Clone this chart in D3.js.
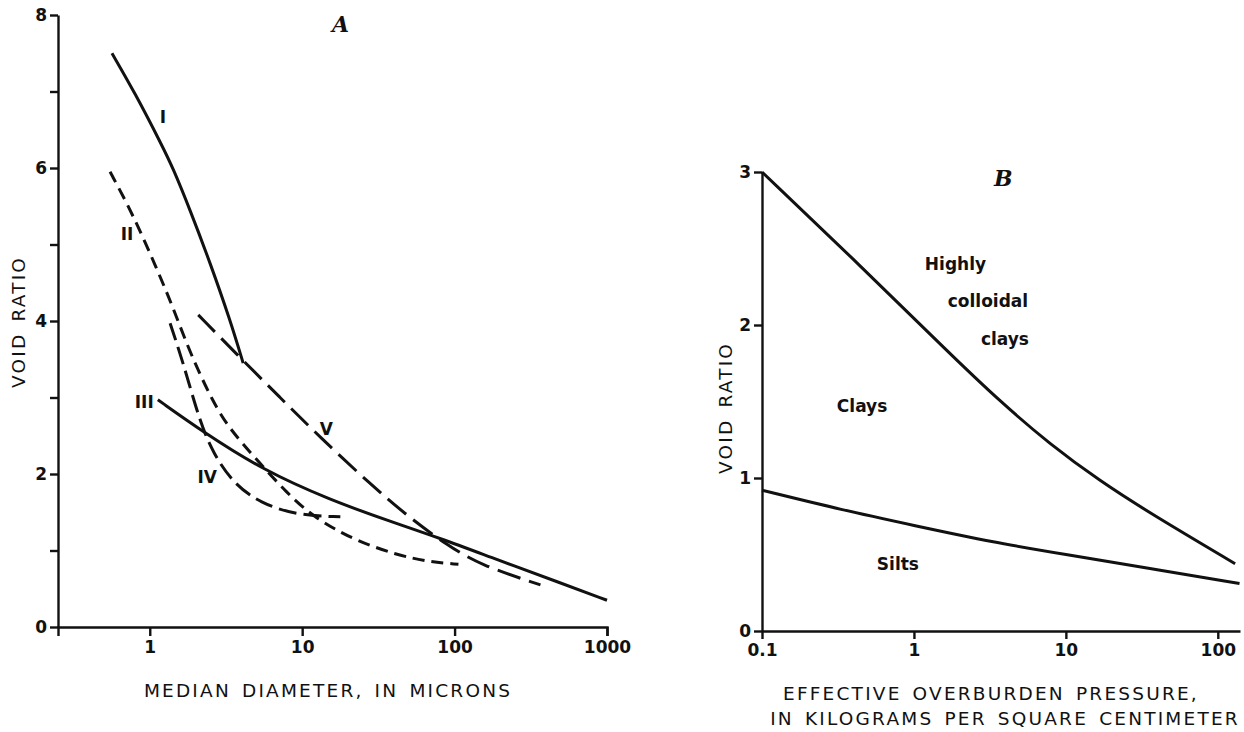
<!DOCTYPE html>
<html>
<head>
<meta charset="utf-8">
<script src="https://cdn.jsdelivr.net/npm/d3@7"></script>
<style>
  body { margin: 0; background: #fff; }
  svg { display: block; }
  .tick text { font-family: "DejaVu Sans", sans-serif; font-size: 17px; font-weight: bold; fill: #111; }
  .title { font-family: "DejaVu Sans", sans-serif; font-size: 18.5px; fill: #111; letter-spacing: 2.2px; word-spacing: 3px; }
  .lab { font-family: "DejaVu Sans", sans-serif; font-size: 17px; font-weight: bold; fill: #111; }
  .panel { font-family: "DejaVu Serif", "Liberation Serif", serif; font-style: italic; font-weight: bold; font-size: 22px; fill: #111; }
</style>
</head>
<body>
<svg width="1244" height="732"></svg>
<script>
// Panel A: void ratio vs median diameter (microns)
var curveI   = [[0.565,7.5],[0.8,6.98],[1.2,6.3],[1.42,6.0],[1.84,5.45],[2.49,4.76],[3.37,4.01],[4.1,3.45]];
var curveII  = [[0.549,5.95],[0.777,5.39],[1.12,4.67],[1.42,4.18],[1.84,3.58],[2.61,2.93],[3.37,2.58],[5.06,2.18],[7.96,1.75],[11.8,1.44],[21.6,1.14],[42,0.94],[69,0.85],[106,0.82]];
var curveIII = [[1.13,2.97],[2.24,2.55],[5.55,2.05],[15.3,1.66],[37.8,1.38],[80.5,1.16],[190,0.88],[490,0.58],[1000,0.35]];
var curveIV  = [[1.36,3.97],[1.66,3.45],[2.14,2.67],[2.61,2.27],[3.52,1.88],[5.3,1.62],[9.27,1.46],[17.8,1.44]];
var curveV   = [[2.08,4.08],[3.92,3.52],[7.16,3.0],[13.1,2.48],[27.9,1.87],[51.2,1.42],[89.5,1.07],[147.5,0.81],[366,0.55]];
var ticksAx = [1, 10, 100, 1000];
var ticksAy = [0, 1, 2, 3, 4, 5, 6, 7, 8];

// Panel B: void ratio vs effective overburden pressure
var upperB = [[0.1,3.0],[0.442,2.39],[1.73,1.81],[3.69,1.5],[7.87,1.22],[16.8,0.98],[35.8,0.77],[130,0.44]];
var lowerB = [[0.1,0.92],[0.34,0.79],[1.0,0.69],[3.3,0.58],[10,0.5],[35,0.41],[139,0.31]];
var ticksBx = [0.1, 1, 10, 100];
var ticksBy = [0, 1, 2, 3];

var svg = d3.select("svg");

function inkAxis(g) {
  g.selectAll("line,path").attr("stroke", "#111").attr("stroke-width", 2.4);
}

// ---------- panel A ----------
var xA = d3.scaleLog().domain([0.25, 1000]).range([58, 607]);
var yA = d3.scaleLinear().domain([0, 8]).range([627, 15]);

var gA = svg.append("g");

gA.append("g")
  .attr("transform", "translate(0,627)")
  .call(d3.axisBottom(xA).tickValues(ticksAx).tickFormat(d3.format("d")).tickSize(9).tickPadding(5))
  .call(inkAxis);

gA.append("g")
  .attr("transform", "translate(58,0)")
  .call(d3.axisLeft(yA).tickValues(ticksAy).tickFormat(function(d) { return d % 2 === 0 ? d : ""; }).tickSize(8).tickPadding(3).tickSizeOuter(0))
  .call(inkAxis);

var lineA = d3.line()
  .x(function(d) { return xA(d[0]); })
  .y(function(d) { return yA(d[1]); })
  .curve(d3.curveBasis);

var seriesA = [
  { data: curveI,   dash: null },
  { data: curveII,  dash: "12,7" },
  { data: curveIII, dash: null },
  { data: curveIV,  dash: "18,7" },
  { data: curveV,   dash: "24,9" }
];

gA.selectAll("path.curve")
  .data(seriesA)
  .enter()
  .append("path")
  .attr("class", "curve")
  .attr("fill", "none")
  .attr("stroke", "#111")
  .attr("stroke-width", 3)
  .attr("stroke-dasharray", function(d) { return d.dash; })
  .attr("d", function(d) { return lineA(d.data); });

var labelsA = [["I", 1.22, 6.59], ["II", 0.71, 5.06], ["III", 0.92, 2.86], ["IV", 2.38, 1.88], ["V", 14.4, 2.51]];
gA.selectAll("text.lab")
  .data(labelsA)
  .enter()
  .append("text")
  .attr("class", "lab")
  .attr("x", function(d) { return xA(d[1]); })
  .attr("y", function(d) { return yA(d[2]); })
  .attr("text-anchor", "middle")
  .text(function(d) { return d[0]; });

gA.append("text").attr("class", "panel").attr("x", 332).attr("y", 32).text("A");

gA.append("text").attr("class", "title")
  .attr("x", 328).attr("y", 697).attr("text-anchor", "middle")
  .text("MEDIAN DIAMETER, IN MICRONS");

gA.append("text").attr("class", "title")
  .attr("transform", "translate(25,322) rotate(-90)")
  .attr("text-anchor", "middle")
  .text("VOID RATIO");

// ---------- panel B ----------
var xB = d3.scaleLog().domain([0.1, 140]).range([762, 1240]);
var yB = d3.scaleLinear().domain([0, 3]).range([631, 172]);

var gB = svg.append("g");

gB.append("g")
  .attr("transform", "translate(0,631)")
  .call(d3.axisBottom(xB).tickValues(ticksBx).tickFormat(function(d) { return d; }).tickSize(8).tickPadding(5).tickSizeOuter(0))
  .call(inkAxis);

gB.append("g")
  .attr("transform", "translate(762,0)")
  .call(d3.axisLeft(yB).tickValues(ticksBy).tickFormat(d3.format("d")).tickSize(8).tickPadding(3).tickSizeOuter(0))
  .call(inkAxis);

var lineB = d3.line()
  .x(function(d) { return xB(d[0]); })
  .y(function(d) { return yB(d[1]); })
  .curve(d3.curveBasis);

gB.selectAll("path.curve")
  .data([upperB, lowerB])
  .enter()
  .append("path")
  .attr("class", "curve")
  .attr("fill", "none")
  .attr("stroke", "#111")
  .attr("stroke-width", 3)
  .attr("d", lineB);

var labelsB = [["Highly", 1.18, 2.36], ["colloidal", 1.67, 2.12], ["clays", 2.76, 1.87], ["Clays", 0.311, 1.43], ["Silts", 0.57, 0.40]];
gB.selectAll("text.lab")
  .data(labelsB)
  .enter()
  .append("text")
  .attr("class", "lab")
  .attr("x", function(d) { return xB(d[1]); })
  .attr("y", function(d) { return yB(d[2]); })
  .text(function(d) { return d[0]; });

gB.append("text").attr("class", "panel").attr("x", 994).attr("y", 186).text("B");

gB.append("text").attr("class", "title")
  .attr("x", 991).attr("y", 700).attr("text-anchor", "middle")
  .text("EFFECTIVE OVERBURDEN PRESSURE,");
gB.append("text").attr("class", "title")
  .attr("x", 1005).attr("y", 725).attr("text-anchor", "middle")
  .text("IN KILOGRAMS PER SQUARE CENTIMETER");

gB.append("text").attr("class", "title")
  .attr("transform", "translate(732,408) rotate(-90)")
  .attr("text-anchor", "middle")
  .text("VOID RATIO");
</script>
</body>
</html>
